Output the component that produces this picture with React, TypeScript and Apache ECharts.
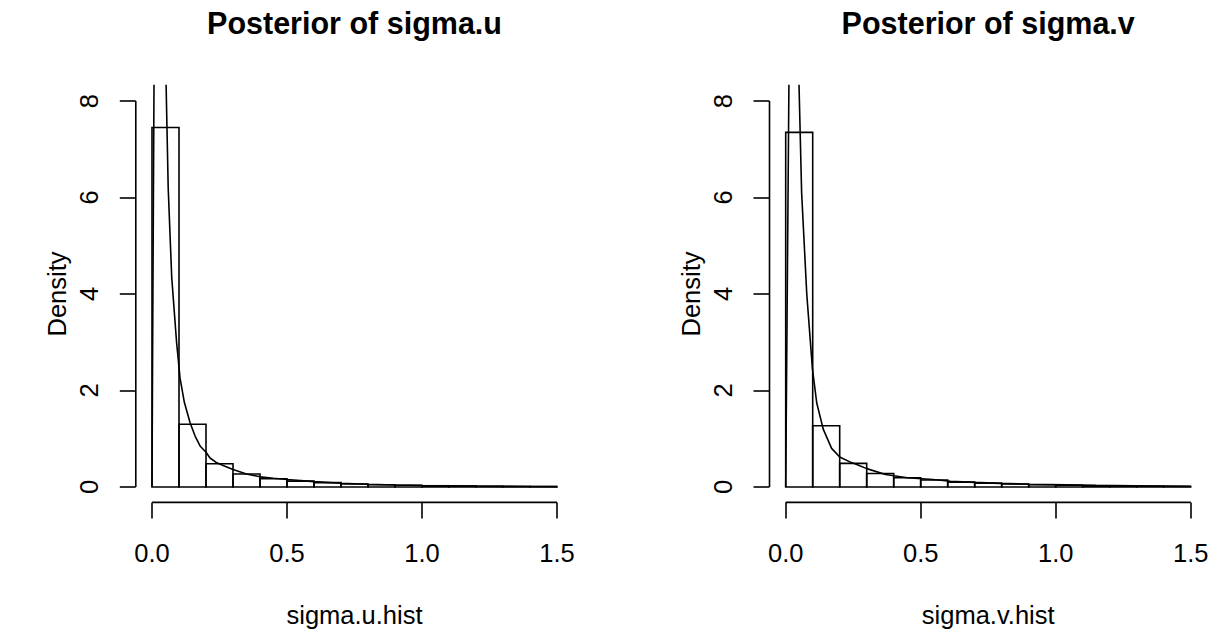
import React, { useEffect, useRef } from "react";
import * as echarts from "echarts";

// ---- data ----
const binEdges = [0, 0.1, 0.2, 0.3, 0.4, 0.5, 0.6, 0.7, 0.8, 0.9, 1.0, 1.1, 1.2, 1.3, 1.4, 1.5];
const histU = [7.45, 1.3, 0.48, 0.27, 0.17, 0.12, 0.09, 0.06, 0.045, 0.035, 0.025, 0.02, 0.015, 0.01, 0.008];
const histV = [7.35, 1.27, 0.49, 0.28, 0.19, 0.145, 0.1, 0.08, 0.06, 0.045, 0.035, 0.025, 0.02, 0.015, 0.01];

const densU: [number, number][] = [
  [0, 0], [0.002, 2.5], [0.005, 5.8], [0.0075, 8.4], [0.012, 11.5], [0.02, 13.5], [0.03, 13],
  [0.04, 11], [0.052, 8.4], [0.06, 6.2], [0.073, 4.35], [0.091, 3.0], [0.104, 2.25], [0.12, 1.75],
  [0.141, 1.33], [0.16, 1.05], [0.178, 0.85], [0.2, 0.72], [0.215, 0.6], [0.24, 0.5], [0.27, 0.43],
  [0.3, 0.36], [0.35, 0.27], [0.4, 0.21], [0.45, 0.18], [0.5, 0.155], [0.6, 0.11], [0.7, 0.078],
  [0.8, 0.056], [0.9, 0.042], [1.0, 0.031], [1.1, 0.023], [1.2, 0.017], [1.3, 0.013], [1.4, 0.009], [1.5, 0.006],
];
const densV: [number, number][] = [
  [0, 0], [0.004, 2.8], [0.008, 5.6], [0.012, 8.4], [0.018, 11.5], [0.025, 13], [0.033, 12.5],
  [0.042, 10.5], [0.049, 8.4], [0.059, 6.1], [0.078, 4.0], [0.099, 2.45], [0.115, 1.74], [0.139, 1.2],
  [0.17, 0.8], [0.2, 0.62], [0.238, 0.52], [0.27, 0.45], [0.3, 0.38], [0.37, 0.26], [0.45, 0.19],
  [0.545, 0.155], [0.61, 0.12], [0.7, 0.095], [0.79, 0.075], [0.9, 0.057], [1.04, 0.043], [1.15, 0.033],
  [1.29, 0.024], [1.4, 0.017], [1.5, 0.012],
];

const xTicks = [0, 0.5, 1.0, 1.5];
const xTickLabels = ["0.0", "0.5", "1.0", "1.5"];
const yTicks = [0, 2, 4, 6, 8];
const yTickLabels = ["0", "2", "4", "6", "8"];
const titles = ["Posterior of sigma.u", "Posterior of sigma.v"];
const xNames = ["sigma.u.hist", "sigma.v.hist"];
const yName = "Density";

// ---- layout ----
const FONT = "'Liberation Sans', Arial, Helvetica, sans-serif";
const BASE = 25.5;
const TITLE = 30.5;
const LW = 1.6;
const gridLefts = [135.8, 769.5];
const gridTop = 85.6;
const gridW = 437.4;
const gridH = 416.8;

const xSpan = xTicks[xTicks.length - 1] - xTicks[0];
const ySpan = yTicks[yTicks.length - 1] - yTicks[0];
const xMin = xTicks[0] - 0.04 * xSpan;
const xMax = xTicks[xTicks.length - 1] + 0.04 * xSpan;
const yMin = yTicks[0] - 0.04 * ySpan;
const yMax = yTicks[yTicks.length - 1] + 0.04 * ySpan;

export default function App() {
  const ref = useRef<HTMLDivElement>(null);
  useEffect(() => {
    if (!ref.current) return;
    const chart = echarts.init(ref.current, null, { renderer: "svg" });
    const hists = [histU, histV];
    const dens = [densU, densV];

    const grid = gridLefts.map((l) => ({
      left: l,
      top: gridTop,
      width: gridW,
      height: gridH,
      containLabel: false,
      outerBoundsMode: "none",
    }));
    const xAxis = [0, 1].map((i) => ({
      type: "value",
      gridIndex: i,
      min: xMin,
      max: xMax,
      name: xNames[i],
      nameLocation: "middle",
      nameGap: 100,
      nameTextStyle: { fontSize: BASE, fontFamily: FONT, color: "#000" },
      axisLine: { show: false, onZero: false },
      axisTick: { show: true, customValues: xTicks, length: 16, lineStyle: { color: "#000", width: LW } },
      axisLabel: {
        customValues: xTicks,
        formatter: (v: number) => xTickLabels[xTicks.findIndex((t) => Math.abs(t - v) < 1e-9)] ?? "",
        margin: 38,
        fontSize: BASE,
        fontFamily: FONT,
        color: "#000",
      },
      splitLine: { show: false },
    }));
    const yAxis = [0, 1].map((i) => ({
      type: "value",
      gridIndex: i,
      min: yMin,
      max: yMax,
      name: yName,
      nameLocation: "middle",
      nameRotate: 90,
      nameGap: 66,
      nameTextStyle: { fontSize: BASE, fontFamily: FONT, color: "#000" },
      axisLine: { show: false, onZero: false },
      axisTick: { show: true, customValues: yTicks, length: 16, lineStyle: { color: "#000", width: LW } },
      axisLabel: {
        customValues: yTicks,
        rotate: 90,
        formatter: (v: number) => yTickLabels[yTicks.findIndex((t) => Math.abs(t - v) < 1e-9)] ?? "",
        margin: 34,
        fontSize: BASE,
        fontFamily: FONT,
        color: "#000",
      },
      splitLine: { show: false },
    }));

    const series: any[] = [];
    [0, 1].forEach((i) => {
      series.push({
        type: "custom",
        xAxisIndex: i,
        yAxisIndex: i,
        silent: true,
        data: hists[i].map((v, k) => [binEdges[k], binEdges[k + 1], v]),
        encode: { x: [0, 1], y: 2 },
        renderItem: (_p: any, api: any) => {
          const p0 = api.coord([api.value(0), 0]);
          const p1 = api.coord([api.value(1), api.value(2)]);
          return {
            type: "rect",
            shape: { x: p0[0], y: p1[1], width: p1[0] - p0[0], height: p0[1] - p1[1] },
            style: { fill: "none", stroke: "#000", lineWidth: LW },
          };
        },
      });
      series.push({
        type: "line",
        xAxisIndex: i,
        yAxisIndex: i,
        data: dens[i],
        symbol: "none",
        smooth: false,
        clip: true,
        silent: true,
        lineStyle: { color: "#000", width: LW },
        z: 5,
      });
      // axis lines spanning first..last tick (R style)
      series.push({
        type: "line",
        xAxisIndex: i,
        yAxisIndex: i,
        data: [[xTicks[0], yMin], [xTicks[xTicks.length - 1], yMin]],
        symbol: "none",
        clip: false,
        silent: true,
        lineStyle: { color: "#000", width: LW },
      });
      series.push({
        type: "line",
        xAxisIndex: i,
        yAxisIndex: i,
        data: [[xMin, yTicks[0]], [xMin, yTicks[yTicks.length - 1]]],
        symbol: "none",
        clip: false,
        silent: true,
        lineStyle: { color: "#000", width: LW },
      });
    });

    const graphic = [0, 1].map((i) => ({
      type: "text",
      x: gridLefts[i] + gridW / 2,
      y: 22.5,
      style: {
        text: titles[i],
        align: "center",
        verticalAlign: "middle",
        fontSize: TITLE,
        fontWeight: "bold",
        fontFamily: FONT,
        fill: "#000",
      },
    }));

    chart.setOption({
      animation: false,
      backgroundColor: "#fff",
      grid,
      xAxis,
      yAxis,
      series,
      graphic,
    });
    return () => chart.dispose();
  }, []);
  return <div ref={ref} style={{ position: "absolute", left: 0, top: 0, width: 1214, height: 629 }} />;
}
